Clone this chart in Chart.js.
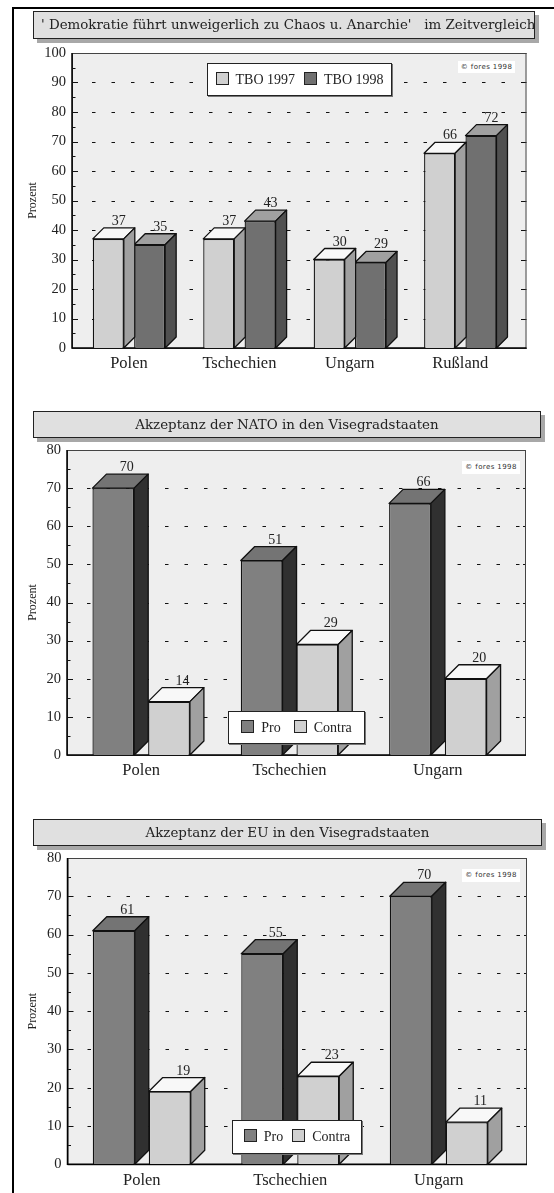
<!DOCTYPE html>
<html>
<head>
<meta charset="utf-8">
<script src="https://cdn.jsdelivr.net/npm/chart.js@4"></script>
<style>
html, body { margin: 0; padding: 0; background: #fff; }
#page { position: relative; width: 554px; height: 1193px; overflow: hidden; }
#frame { position: absolute; left: 12px; top: 7px; right: -5px; bottom: -5px; border-top: 2px solid #000; border-left: 2px solid #000; }
canvas { position: absolute; left: 0; }
.title { position: absolute; box-sizing: border-box; left: 33px; background: #e0e0e0; border: 1px solid #222; box-shadow: 4px 4px 0 #a8a8a8;
  font: 13.4px "DejaVu Serif", serif; color: #222; white-space: pre; line-height: 25px; text-align: center; }
.legend { position: absolute; box-sizing: border-box; background: #fff; border: 1px solid #222; box-shadow: 1px 1px 0 #777; display: flex; align-items: center; justify-content: center;
  font: 14px "Liberation Serif", serif; color: #222; white-space: pre; }
.legend i { display: inline-block; width: 11px; height: 11px; border: 1px solid #222; margin-right: 7px; vertical-align: -1px; }
.legend span { margin-right: 9px; }
.legend span:last-child { margin-right: 0; }
.fores { position: absolute; background: #fff; font: 7px "DejaVu Sans", sans-serif; letter-spacing: 0.4px; color: #333; text-align: center; white-space: pre; }
</style>
</head>
<body>
<div id="page">
<div id="frame"></div>

<canvas id="c1" width="554" height="385" style="top:30px;width:554px;height:385px"></canvas>
<canvas id="c2" width="554" height="355" style="top:430px;width:554px;height:355px"></canvas>
<canvas id="c3" width="554" height="355" style="top:838px;width:554px;height:355px"></canvas>

<div class="title" style="top:11px;width:502px;height:28px;text-align:left;padding-left:7px;overflow:visible">' Demokratie führt unweigerlich zu Chaos u. Anarchie'   im Zeitvergleich</div>
<div class="title" style="top:411px;width:508px;height:27px">Akzeptanz der NATO in den Visegradstaaten</div>
<div class="title" style="top:819px;width:509px;height:27px">Akzeptanz der EU in den Visegradstaaten</div>

<div class="fores" style="left:458px;top:61px;width:57px;height:12px;line-height:12px">© fores 1998</div>
<div class="fores" style="left:462px;top:461px;width:58px;height:13px;line-height:13px">© fores 1998</div>
<div class="fores" style="left:462px;top:869px;width:58px;height:13px;line-height:13px">© fores 1998</div>

<div class="legend" style="left:207px;top:63px;width:185px;height:33px">
  <span><i style="background:#d0d0d0"></i>TBO 1997</span><span><i style="background:#707070"></i>TBO 1998</span>
</div>
<div class="legend" style="left:228px;top:711px;width:137px;height:33px">
  <span style="margin-right:13px"><i style="background:#808080"></i>Pro</span><span><i style="background:#d0d0d0"></i>Contra</span>
</div>
<div class="legend" style="left:232px;top:1120px;width:130px;height:34px">
  <span><i style="background:#808080"></i>Pro</span><span><i style="background:#d0d0d0"></i>Contra</span>
</div>
</div>

<script>
var zeitLaender = ['Polen', 'Tschechien', 'Ungarn', 'Rußland'];
var tbo1997 = [37, 37, 30, 66];
var tbo1998 = [35, 43, 29, 72];

var visegrad = ['Polen', 'Tschechien', 'Ungarn'];
var natoPro = [70, 51, 66];
var natoContra = [14, 29, 20];
var euPro = [61, 55, 70];
var euContra = [19, 23, 11];

var lightBar = { front: '#d0d0d0', top: '#f8f8f8', side: '#a0a0a0' };
var darkBar = { front: '#707070', top: '#a0a0a0', side: '#505050' };
var proBar = { front: '#808080', top: '#747474', side: '#303030' };

const bars3d = {
    id: 'bars3d',
    beforeDatasetsDraw: function(chart, args, opts) {
        const ctx = chart.ctx;
        const area = chart.chartArea;
        const left = area.left - opts.backLeft;
        const right = area.right + opts.depth;
        const y = chart.scales.y;
        ctx.save();
        ctx.fillStyle = '#eeeeee';
        ctx.fillRect(left, area.top, right - left, area.bottom - area.top);
        // grid + ticks
        y.ticks.forEach(function(t) {
            const py = Math.round(y.getPixelForValue(t.value)) + 0.5;
            const major = t.value % 10 == 0;
            ctx.strokeStyle = '#111';
            ctx.lineWidth = 1;
            ctx.beginPath();
            ctx.moveTo(left, py);
            ctx.lineTo(left + (major ? 6 : 3.5), py);
            ctx.stroke();
            if (major) {
                ctx.setLineDash([3.5, 16]);
                ctx.beginPath();
                ctx.moveTo(left + 20, py);
                ctx.lineTo(right, py);
                ctx.stroke();
                ctx.setLineDash([]);
                ctx.beginPath();
                ctx.moveTo(right - 3, py);
                ctx.lineTo(right, py);
                ctx.stroke();
            }
        });
        ctx.strokeStyle = '#444';
        ctx.lineWidth = 1;
        ctx.strokeRect(left + 0.5, area.top + 0.5, right - left - 1, area.bottom - area.top);
        ctx.strokeStyle = '#000';
        ctx.lineWidth = 1.5;
        ctx.beginPath();
        ctx.moveTo(left, area.top);
        ctx.lineTo(left, area.bottom);
        ctx.lineTo(right, area.bottom);
        ctx.stroke();
        ctx.restore();
    },
    beforeDatasetDraw: function(chart, args, opts) {
        const ctx = chart.ctx;
        const d = opts.depth;
        const look = opts.looks[args.index];
        ctx.save();
        ctx.strokeStyle = '#111';
        ctx.lineWidth = 1.3;
        ctx.lineJoin = 'round';
        args.meta.data.forEach(function(bar) {
            const l = bar.x - bar.width / 2;
            const r = bar.x + bar.width / 2;
            // top face
            ctx.fillStyle = look.top;
            ctx.beginPath();
            ctx.moveTo(l, bar.y);
            ctx.lineTo(l + d, bar.y - d);
            ctx.lineTo(r + d, bar.y - d);
            ctx.lineTo(r, bar.y);
            ctx.closePath();
            ctx.fill();
            ctx.stroke();
            // side face
            ctx.fillStyle = look.side;
            ctx.beginPath();
            ctx.moveTo(r, bar.y);
            ctx.lineTo(r + d, bar.y - d);
            ctx.lineTo(r + d, bar.base - d);
            ctx.lineTo(r, bar.base);
            ctx.closePath();
            ctx.fill();
            ctx.stroke();
        });
        ctx.restore();
    },
    afterDatasetsDraw: function(chart, args, opts) {
        const ctx = chart.ctx;
        ctx.save();
        ctx.fillStyle = '#222';
        ctx.font = opts.labelSize + 'px "Liberation Serif", serif';
        ctx.textAlign = 'center';
        ctx.textBaseline = 'alphabetic';
        chart.data.datasets.forEach(function(ds, i) {
            chart.getDatasetMeta(i).data.forEach(function(bar, j) {
                ctx.fillText(ds.data[j], bar.x + opts.depth - 0.5, bar.y - opts.depth - 3);
            });
        });
        ctx.restore();
    }
};

function makeChart(id, cfg) {
    const canvas = document.getElementById(id);
    const h = canvas.height;
    return new Chart(canvas.getContext('2d'), {
        type: 'bar',
        plugins: [bars3d],
        data: {
            labels: cfg.labels,
            datasets: [
                { label: cfg.names[0], data: cfg.series[0], backgroundColor: cfg.looks[0].front, borderColor: '#111', borderWidth: 1.3, barPercentage: cfg.barPct, categoryPercentage: cfg.catPct },
                { label: cfg.names[1], data: cfg.series[1], backgroundColor: cfg.looks[1].front, borderColor: '#111', borderWidth: 1.3, barPercentage: cfg.barPct, categoryPercentage: cfg.catPct }
            ]
        },
        options: {
            responsive: false,
            animation: false,
            layout: {
                autoPadding: false,
                padding: { left: 26, right: 554 - cfg.scaleRight, top: cfg.plotTop, bottom: 0 }
            },
            plugins: {
                legend: { display: false },
                title: { display: false },
                tooltip: { enabled: false },
                bars3d: { depth: cfg.depth, backLeft: cfg.backLeft, looks: cfg.looks, labelSize: 14 }
            },
            scales: {
                x: {
                    grid: { display: false, drawTicks: false },
                    border: { display: false },
                    ticks: { color: '#222', font: { family: '"Liberation Serif", serif', size: 16.5 }, padding: 6, maxRotation: 0 },
                    afterFit: function(s) { s.height = h - cfg.plotBottom; }
                },
                y: {
                    min: 0,
                    max: cfg.yMax,
                    grid: { display: false, drawTicks: false },
                    border: { display: false },
                    title: { display: true, text: 'Prozent', color: '#222', font: { family: '"Liberation Serif", serif', size: 12 }, padding: 0 },
                    ticks: {
                        stepSize: 5,
                        autoSkip: false,
                        color: '#222',
                        font: { family: '"Liberation Serif", serif', size: 14.5 },
                        padding: cfg.backLeft + 6,
                        callback: function(v) { return v % 10 == 0 ? String(v) : ''; }
                    },
                    afterFit: function(s) { s.width = cfg.scaleLeft - 26; }
                }
            }
        }
    });
}

makeChart('c1', {
    labels: zeitLaender, names: ['TBO 1997', 'TBO 1998'], series: [tbo1997, tbo1998],
    looks: [lightBar, darkBar], barPct: 0.75, catPct: 0.749, depth: 11, backLeft: 1.75,
    yMax: 100, scaleLeft: 73.75, scaleRight: 515.5, plotTop: 23, plotBottom: 318
});
makeChart('c2', {
    labels: visegrad, names: ['Pro', 'Contra'], series: [natoPro, natoContra],
    looks: [proBar, lightBar], barPct: 0.75, catPct: 0.751, depth: 14, backLeft: 0,
    yMax: 80, scaleLeft: 67, scaleRight: 512, plotTop: 20, plotBottom: 325
});
makeChart('c3', {
    labels: visegrad, names: ['Pro', 'Contra'], series: [euPro, euContra],
    looks: [proBar, lightBar], barPct: 0.75, catPct: 0.754, depth: 14, backLeft: 0,
    yMax: 80, scaleLeft: 67.5, scaleRight: 513, plotTop: 20, plotBottom: 326.3
});
</script>
</body>
</html>
